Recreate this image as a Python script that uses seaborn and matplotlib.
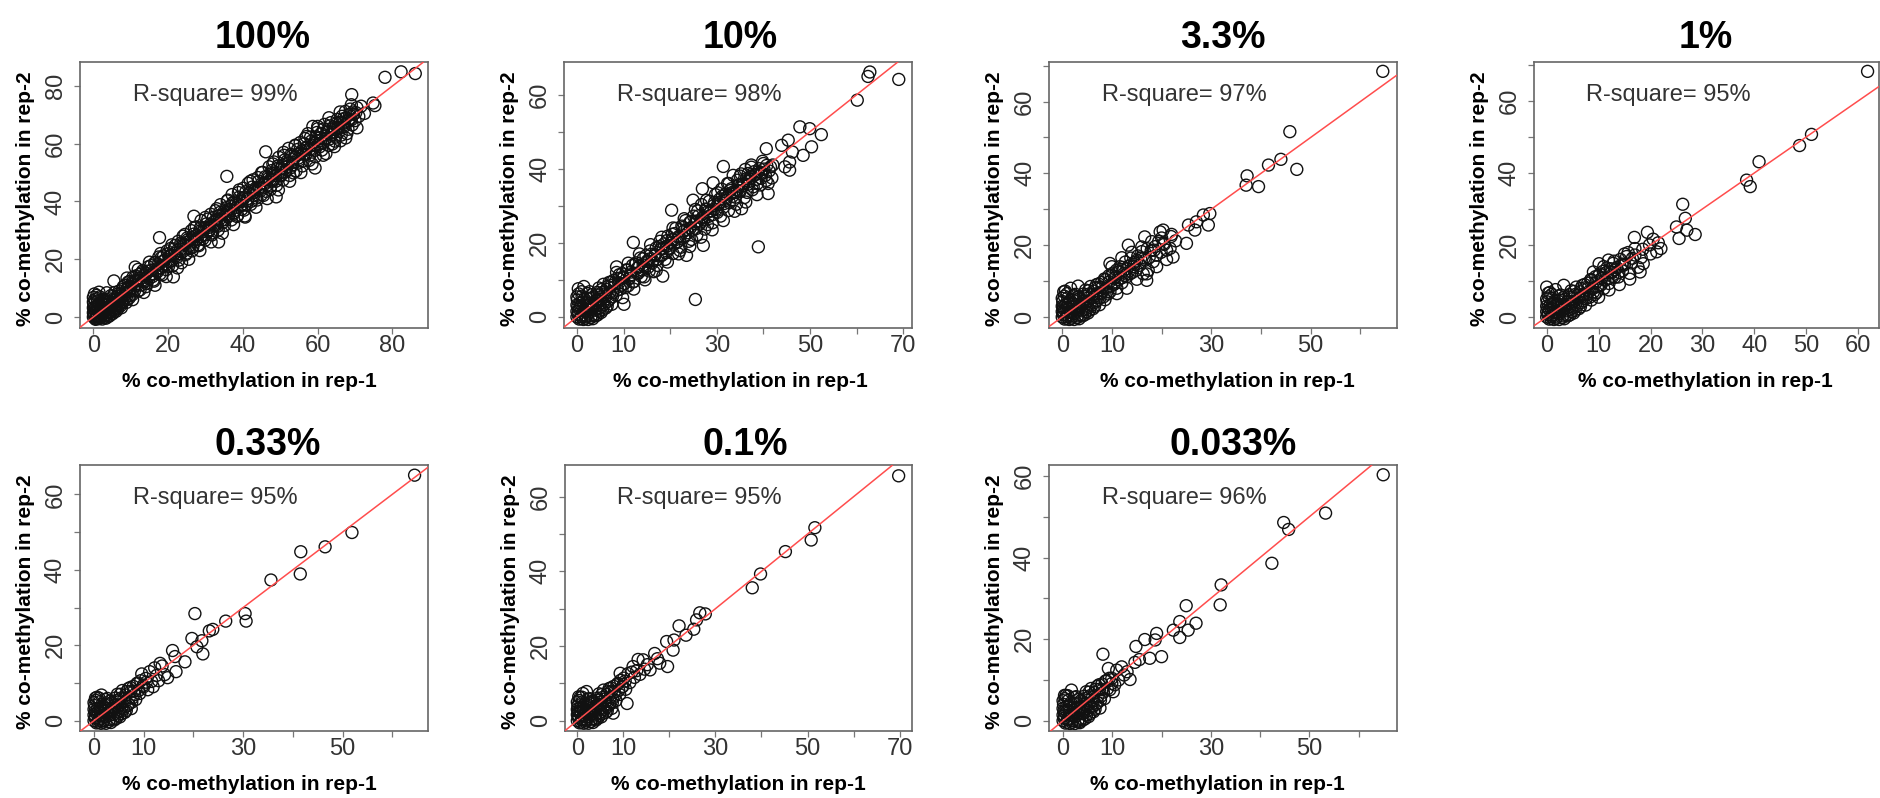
import matplotlib
matplotlib.use("Agg")
import matplotlib.pyplot as plt
import seaborn as sns
import pandas as pd

sns.set_theme(style="white")
plt.rcParams["font.family"] = ["Liberation Sans", "DejaVu Sans"]

# ---------------- data ----------------
titles = ["100%", "10%", "3.3%", "1%", "0.33%", "0.1%", "0.033%"]
r_square = ["99%", "98%", "97%", "95%", "95%", "95%", "96%"]

# fitted line (intercept, slope) per panel
fit_lines = [(0, 1), (0, 1), (0, 1), (0, 1), (0, 1), (0, 1), (0, 1)]

pts_100 = [
    (0, 0), (0.3, 1.2), (0.5, -0.5), (0.8, 2.5), (1, 0.4), (1.2, 3.8), (1.5, 1.5), (1.8, -0.3), (2, 2.6),
    (2.2, 4.8), (2.5, 0.8), (2.8, 3.3), (3, 1.9), (3.2, 5.6), (3.5, 2.7), (3.8, 0.9), (4, 4.2), (4.3, 6.3),
    (4.5, 3.1), (4.8, 1.8), (5, 5), (5.3, 7.2), (5.5, 3.9), (5.8, 2.6), (6, 6.3), (6.3, 4.4), (6.6, 8),
    (6.9, 5.6), (7.2, 3.8), (7.5, 7.5), (0.1, 4.5), (0.2, 2.8), (0.4, 6), (0.6, -0.8), (1.1, 5.5), (1.4, -0.6),
    (1.7, 7), (2.4, -0.7), (2.7, 6.1), (3.4, -0.4), (4.1, 0.2), (5.2, 1.2), (6.1, 2), (0, 3.2), (0, 6.8),
    (0.9, 7.5), (5.5, 12.5), (3.6, 8.4), (7.8, 5),
    (8.0, 10.5), (8.4, 6.2), (8.9, 9.6), (9.3, 12.1), (9.7, 7.4), (10.2, 11.3), (10.6, 13.8), (11.0, 9.0),
    (11.2, 17.3), (11.5, 12.6), (11.9, 8.9), (12.3, 14.7), (12.8, 11.1), (13.2, 16.0), (13.6, 12.2),
    (14.1, 10.5), (14.5, 15.9), (14.9, 13.3), (15.4, 17.8), (15.8, 14.0), (16.2, 12.4), (16.7, 19.0),
    (17.1, 15.6), (17.5, 20.8), (17.7, 27.5), (18.0, 16.9), (18.4, 14.6), (18.8, 21.2), (19.3, 18.0),
    (19.7, 22.9), (20.1, 17.5), (20.6, 23.7), (21.0, 19.4), (21.4, 13.9), (21.9, 24.8), (22.3, 20.6),
    (22.7, 26.2), (23.2, 21.9), (23.6, 18.8), (24.0, 25.4), (24.5, 28.6), (24.9, 22.1), (25.3, 26.8),
    (25.8, 23.7), (26.2, 29.9), (26.6, 24.2), (26.9, 34.9), (27.1, 27.8), (27.5, 31.2), (28.0, 25.0),
    (28.4, 29.7), (28.8, 33.4), (29.3, 27.1), (29.7, 31.0), (30.1, 28.5), (30.6, 33.9), (31.0, 30.2),
    (31.4, 35.6), (31.9, 29.1), (32.3, 33.0), (32.7, 36.8), (33.2, 31.4), (33.5, 26.0), (33.6, 35.0),
    (34.0, 38.9), (34.5, 32.6), (34.9, 36.4), (35.3, 33.7), (35.7, 48.7), (35.8, 40.2), (36.2, 35.1),
    (36.6, 38.3), (37.1, 42.4), (37.5, 36.0), (37.9, 39.9), (38.4, 34.8), (38.8, 43.1), (39.2, 40.0),
    (39.7, 37.3), (40.1, 44.6), (40.6, 34.6), (40.5, 41.5), (41.0, 39.0), (41.4, 46.3), (41.8, 42.8),
    (42.3, 40.1), (42.7, 47.5), (43.1, 43.9), (43.6, 41.2), (44.0, 48.3), (44.4, 45.0), (44.9, 42.3),
    (45.3, 50.1), (45.7, 46.4), (46.1, 57.2), (46.2, 43.5), (46.6, 48.5), (47.0, 52.0), (47.5, 45.4),
    (47.9, 49.8), (48.3, 53.7), (48.8, 47.0), (48.9, 41.6), (49.2, 51.4), (49.6, 55.3), (50.1, 48.8),
    (50.5, 52.6), (50.9, 57.0), (51.4, 50.2), (51.8, 54.0), (52.2, 58.4), (52.7, 51.6), (53.1, 55.7),
    (53.5, 49.9), (54.0, 59.3), (54.4, 56.2), (54.8, 53.3), (55.3, 60.4), (55.7, 57.5), (56.1, 54.0),
    (56.6, 61.8), (57.0, 58.6), (57.4, 63.5), (57.9, 56.0), (58.3, 60.9), (58.7, 66.0), (59.2, 57.7),
    (59.3, 51.6), (59.6, 62.4), (60.0, 65.2), (60.5, 58.9), (60.9, 63.6), (61.3, 60.2), (61.8, 66.7),
    (62.2, 56.6), (62.6, 64.4), (63.1, 61.6), (63.5, 67.3), (63.9, 59.9), (64.4, 65.0), (64.8, 62.3),
    (65.2, 68.4), (65.7, 64.2), (66.1, 61.0), (66.5, 69.5), (67.0, 65.8), (67.4, 71.2), (67.8, 63.5),
    (68.3, 67.9), (68.7, 72.0), (69.1, 77.0), (69.2, 66.5), (69.6, 70.2), (70.0, 68.0), (70.5, 72.5),
    (71.0, 69.5), (71.6, 73.0), (72.5, 70.5), (74.8, 74.1), (75.3, 73.2), (78.0, 83.0), (82.3, 84.9),
    (86.1, 84.3),
]
core_100 = [
    (0.2, 0.6), (0.5, 1.9), (0.7, 3.4), (0.9, 0.1), (1.3, 2.2), (1.6, 4.4), (1.9, 1.1), (2.1, 3.5), (2.3, 5.9),
    (2.6, 2.0), (2.9, 4.6), (3.1, 0.3), (3.3, 3.0), (3.6, 5.0), (3.9, 1.7), (4.2, 3.5), (4.4, 5.5), (4.7, 7.4),
    (4.9, 2.4), (5.1, 4.3), (5.4, 6.2), (5.7, 8.5), (5.9, 3.3), (6.2, 5.3), (6.4, 7.1), (6.7, 4.0), (6.9, 9.0),
    (7.1, 6.4), (7.4, 8.3), (7.6, 5.2), (7.9, 9.6), (8.2, 7.3), (8.5, 11.0), (8.7, 8.1), (9.0, 6.0), (9.2, 10.2),
    (9.5, 8.9), (9.8, 12.4), (10.0, 10.0), (0.0, 1.5), (0.0, 5.2), (0.3, 8.0), (1.0, 6.4), (1.5, 8.6),
    (0.8, -0.4), (2.0, 0.0), (3.0, -0.2), (4.5, 0.6), (5.5, 1.8), (6.5, 2.8), (7.5, 3.2), (8.8, 5.0),
    (9.6, 6.6), (10.4, 7.7),
    (10.4, 12.0), (10.9, 10.2), (11.3, 14.2), (11.7, 11.0), (12.1, 12.7), (12.5, 9.4), (12.9, 15.3),
    (13.4, 12.9), (13.8, 14.5), (14.3, 11.6), (14.7, 17.4), (15.1, 14.4), (15.6, 16.2), (16.0, 12.8),
    (16.4, 18.8), (16.9, 15.9), (17.3, 18.1), (17.8, 14.9), (18.2, 20.6), (18.6, 17.6), (19.0, 19.7),
    (19.5, 16.4), (19.9, 21.9), (20.3, 19.2), (20.8, 21.5), (21.2, 17.8), (21.6, 23.6), (22.1, 21.2),
    (22.5, 23.1), (22.9, 19.7), (23.4, 25.6), (23.8, 22.5), (24.2, 24.9), (24.7, 21.6), (25.1, 27.4),
    (25.5, 24.6), (26.0, 26.7), (26.4, 22.9), (26.8, 28.7), (27.3, 26.1), (27.7, 28.3), (28.2, 24.7),
    (28.6, 30.8), (29.0, 27.9), (29.5, 30.2), (29.9, 26.6), (30.3, 32.3), (30.8, 29.6), (31.2, 32.0),
    (31.7, 28.4), (32.1, 34.5), (32.5, 31.5), (33.0, 33.8), (33.4, 30.1), (33.8, 36.2), (34.3, 33.5),
    (34.7, 35.6), (35.1, 31.7), (35.6, 37.9), (36.0, 34.7), (36.4, 37.3), (36.9, 33.6), (37.3, 39.6),
    (37.7, 36.8), (38.2, 39.4), (38.6, 35.2), (39.0, 41.5), (39.5, 38.7), (39.9, 41.2), (40.3, 37.0),
    (40.8, 43.4), (41.2, 40.2), (41.6, 42.9), (42.1, 39.0), (42.5, 45.0), (42.9, 42.1), (43.4, 44.6),
    (43.8, 40.5), (44.2, 47.0), (44.7, 43.7), (45.1, 46.3), (45.5, 42.1), (46.0, 48.6), (46.4, 45.6),
    (46.8, 47.9), (47.3, 44.1), (47.7, 50.7), (48.1, 47.3), (48.6, 49.9), (49.0, 45.6), (49.4, 52.3),
    (49.9, 49.1), (50.3, 51.5), (50.7, 47.4), (51.2, 54.4), (51.6, 50.9), (52.0, 53.3), (52.5, 49.0),
    (52.9, 56.3), (53.3, 52.7), (53.8, 55.2), (54.2, 50.6), (54.6, 58.0), (55.1, 54.5), (55.5, 56.8),
    (55.9, 52.3), (56.4, 60.0), (56.8, 56.3), (57.2, 58.9), (57.7, 54.2), (58.1, 62.3), (58.5, 58.0),
    (59.0, 60.5), (59.4, 55.5), (59.8, 63.9), (60.3, 60.0), (60.7, 62.1), (61.1, 57.8), (61.6, 65.1),
    (62.0, 61.7), (62.4, 63.9), (62.9, 59.4), (63.3, 66.2), (63.7, 63.2), (64.2, 65.8), (64.6, 60.9),
    (65.0, 67.0), (65.5, 65.3), (65.9, 67.4), (66.3, 63.0), (66.8, 68.6), (67.2, 66.6), (67.6, 69.0),
    (68.1, 65.0), (68.5, 70.1), (69.0, 68.3), (69.4, 71.0), (70.2, 70.8),
]
edge_100 = [
    (9.0, 13.5), (10.5, 6.0), (12.0, 16.5), (13.5, 8.5), (15.0, 19.0), (16.5, 11.0), (18.0, 22.0),
    (19.5, 14.0), (21.0, 25.0), (22.5, 17.0), (24.0, 28.0), (25.5, 20.0), (27.0, 31.0), (28.5, 23.0),
    (30.0, 34.5), (31.5, 26.0), (33.0, 37.5), (34.5, 29.0), (36.0, 40.5), (37.5, 32.0), (39.0, 44.0),
    (40.5, 35.0), (42.0, 47.0), (43.5, 38.0), (45.0, 50.0), (46.5, 41.0), (48.0, 53.0), (49.5, 44.0),
    (51.0, 56.0), (52.5, 47.0), (54.0, 59.5), (55.5, 50.0), (57.0, 62.5), (58.5, 53.0), (60.0, 66.0),
    (61.5, 56.0), (63.0, 69.0), (64.5, 59.0), (66.0, 71.0), (67.5, 62.0), (69.0, 73.5), (70.5, 65.5),
    (9.8, 9.0), (11.3, 12.4), (12.8, 13.5), (14.3, 15.1), (15.8, 15.0), (17.3, 17.0), (18.8, 19.3),
    (20.3, 21.0), (21.8, 22.0), (23.3, 23.5), (24.8, 25.8), (26.3, 26.0), (27.8, 27.0), (29.3, 29.5),
    (30.8, 31.0), (32.3, 32.0), (33.8, 34.0), (35.3, 35.5), (36.8, 37.0), (38.3, 38.0), (39.8, 40.0),
    (41.3, 41.0), (42.8, 43.0), (44.3, 44.5), (45.8, 46.0), (47.3, 47.5), (48.8, 49.0), (50.3, 50.0),
    (51.8, 52.0), (53.3, 53.5), (54.8, 55.0), (56.3, 56.5), (57.8, 58.0), (59.3, 59.5), (60.8, 61.0),
    (62.3, 62.0), (63.8, 64.0), (65.3, 65.5), (66.8, 67.0), (68.3, 68.5),
]

pts_10 = [
    (0, 0), (0.3, 1.5), (0.5, -0.6), (0.8, 2.8), (1, 0.5), (1.2, 4), (1.5, 1.6), (1.8, -0.4), (2, 3),
    (2.2, 5), (2.5, 1), (2.8, 3.6), (3, 2), (3.2, 6), (3.5, 2.8), (3.8, 0.6), (4, 4.4), (4.3, 6.6), (4.5, 3),
    (4.8, 1.6), (5, 5.4), (5.3, 7.4), (5.6, 3.8), (6, 6.2), (6.2, 2.4), (0.1, 4.6), (0.2, 2.8), (0.4, 6.2),
    (1.1, 5.6), (1.4, -0.7), (2.4, -0.7), (2.7, 6.8), (3.4, -0.5), (4.1, 0.3), (5.2, 1.2), (0, 3.2),
    (6.6, 8.2), (7, 4.8), (7.3, 9.4), (7.7, 6.6),
    (8.0, 8.1), (8.5, 13.5), (8.4, 5.8), (8.9, 10.3), (9.3, 7.5), (9.7, 11.6), (10.1, 3.4), (10.2, 9.0),
    (10.6, 12.7), (11.0, 8.4), (11.4, 11.0), (11.9, 13.9), (12.1, 20.1), (12.3, 9.6), (12.7, 14.6),
    (13.1, 11.7), (13.6, 15.9), (14.0, 12.6), (14.4, 10.8), (14.8, 16.5), (15.3, 13.4), (15.7, 17.8),
    (16.1, 14.5), (16.5, 12.2), (17.0, 18.6), (17.4, 15.6), (17.8, 20.4), (18.2, 16.6), (18.4, 11.0),
    (18.7, 19.7), (19.1, 17.3), (19.5, 21.8), (19.9, 18.4), (20.3, 28.8), (20.4, 22.3), (20.8, 19.6),
    (21.2, 23.9), (21.6, 20.3), (22.1, 17.9), (22.5, 24.5), (22.9, 21.4), (23.3, 26.0), (23.5, 16.6),
    (23.8, 22.7), (24.2, 25.5), (24.6, 20.9), (24.9, 31.5), (25.0, 27.2), (25.4, 4.7), (25.5, 23.8),
    (25.9, 28.6), (26.3, 25.0), (26.7, 30.3), (26.9, 34.6), (27.1, 19.3), (27.2, 26.2), (27.6, 29.1),
    (28.0, 24.9), (28.4, 31.2), (28.9, 27.5), (29.2, 36.2), (29.3, 30.0), (29.7, 33.0), (30.1, 28.2),
    (30.6, 31.8), (31.0, 34.5), (31.4, 40.6), (31.4, 29.6), (31.8, 33.1), (32.3, 36.0), (32.7, 30.8),
    (33.1, 34.6), (33.5, 38.2), (34.0, 32.3), (34.4, 36.9), (34.8, 34.0), (35.3, 29.2), (35.2, 38.6),
    (35.7, 35.4), (36.1, 39.8), (36.5, 33.6), (36.7, 38.7), (37.0, 37.2), (37.4, 40.4), (37.8, 35.1),
    (38.2, 38.4), (38.7, 36.0), (38.9, 18.9), (39.1, 40.0), (39.5, 37.4), (40.0, 41.4), (40.4, 38.2),
    (40.6, 45.4), (41.0, 33.3), (41.2, 39.4), (41.8, 37.5), (43.9, 46.3), (44.6, 40.5), (45.3, 47.7),
    (45.6, 39.6), (45.6, 41.8), (46.2, 44.5), (47.8, 51.3), (48.5, 43.6), (49.9, 50.8), (50.3, 45.9),
    (52.4, 49.2), (60.1, 58.5), (62.4, 64.9), (62.8, 66.1), (69.0, 64.1),
]
core_10 = [
    (0.2, 0.7), (0.5, 2.1), (0.7, 3.7), (0.9, 0.1), (1.3, 2.4), (1.6, 4.8), (1.9, 1.2), (2.1, 3.8), (2.3, 6.3),
    (2.6, 2.1), (2.9, 5.0), (3.1, 0.3), (3.3, 3.2), (3.6, 5.4), (3.9, 1.8), (4.2, 3.7), (4.4, 5.9), (4.7, 7.8),
    (4.9, 2.5), (5.1, 4.6), (5.4, 6.6), (5.7, 8.8), (5.9, 3.4), (6.2, 5.6), (6.4, 7.4), (6.7, 4.2), (6.9, 9.3),
    (7.1, 6.7), (7.4, 8.5), (7.6, 5.4), (7.9, 9.9), (0.0, 1.5), (0.0, 5.4), (0.3, 7.6), (1.0, 6.8), (1.5, 8.2),
    (0.8, -0.4), (2.0, 0.0), (3.0, -0.2), (4.5, 0.6), (5.5, 1.9), (6.5, 2.9), (7.5, 3.4),
    (8.2, 9.4), (8.7, 7.2), (9.1, 11.4), (9.5, 8.6), (9.9, 10.6), (10.4, 7.9), (10.8, 12.6), (11.2, 10.3),
    (11.6, 12.1), (12.0, 9.4), (12.5, 14.2), (12.9, 11.8), (13.3, 13.6), (13.8, 10.9), (14.2, 15.7),
    (14.6, 13.4), (15.0, 15.0), (15.5, 12.4), (15.9, 16.9), (16.3, 15.1), (16.8, 16.8), (17.2, 13.9),
    (17.6, 19.0), (18.0, 16.7), (18.5, 18.4), (18.9, 15.5), (19.3, 20.6), (19.8, 18.6), (20.2, 20.0),
    (20.6, 17.1), (21.0, 22.5), (21.5, 20.2), (21.9, 21.7), (22.3, 18.8), (22.7, 24.1), (23.2, 22.0),
    (23.6, 23.6), (24.0, 20.4), (24.5, 25.8), (24.8, 23.4), (25.3, 25.1), (25.7, 22.1), (26.1, 27.3),
    (26.5, 25.6), (27.0, 27.0), (27.4, 23.7), (27.8, 29.0), (28.2, 27.1), (28.7, 28.6), (29.1, 25.4),
    (29.5, 30.9), (29.9, 29.0), (30.4, 30.4), (30.8, 27.2), (31.2, 32.6), (31.6, 30.6), (32.0, 32.2),
    (32.5, 28.7), (32.9, 34.1), (33.3, 32.5), (33.7, 33.8), (34.2, 30.4), (34.6, 35.6), (35.0, 33.9),
    (35.4, 35.8), (35.9, 32.2), (36.3, 37.3), (36.7, 35.8), (37.2, 37.9), (37.6, 34.3), (38.0, 39.2),
    (38.4, 37.1), (38.8, 39.1), (39.3, 35.6), (39.7, 38.8), (40.1, 39.9), (40.6, 36.8), (41.5, 40.5),
    (42.0, 41.0),
]
edge_10 = [
    (8.5, 12.0), (9.8, 5.2), (11.0, 14.5), (12.2, 7.5), (13.4, 17.0), (14.6, 10.0), (15.8, 19.5),
    (17.0, 12.5), (18.2, 21.5), (19.4, 14.8), (20.6, 24.0), (21.8, 17.0), (23.0, 26.5), (24.2, 19.0),
    (25.4, 29.0), (26.6, 21.5), (27.8, 31.5), (29.0, 23.5), (30.2, 33.5), (31.4, 26.0), (32.6, 36.0),
    (33.8, 28.5), (35.0, 38.0), (36.2, 31.0), (37.4, 41.0), (38.6, 33.0), (39.8, 42.0), (41.0, 36.0),
    (9.0, 9.2), (10.0, 10.5), (11.5, 11.3), (13.0, 13.2), (14.2, 14.0), (15.5, 15.6), (16.7, 16.5),
    (18.0, 18.3), (19.2, 19.0), (20.5, 20.8), (21.7, 21.5), (23.0, 23.2), (24.3, 24.0), (25.6, 25.8),
    (26.9, 26.6), (28.1, 28.4), (29.4, 29.1), (30.7, 31.0), (31.9, 31.4), (33.2, 33.5), (34.4, 34.1),
    (35.7, 36.0), (36.9, 36.6), (38.2, 38.4), (39.4, 39.0), (40.7, 40.9),
]

pts_3_3 = [
    (0, 0), (0.3, 1.4), (0.5, -0.6), (0.8, 2.6), (1, 0.5), (1.2, 3.8), (1.5, 1.5), (1.8, -0.4), (2, 2.8),
    (2.2, 4.6), (2.5, 1), (2.8, 3.5), (3, 2), (3.2, 5.6), (3.2, 8.6), (3.5, 2.6), (3.8, 0.6), (4, 4.2),
    (4.3, 6.4), (4.5, 3), (4.8, 1.5), (5, 5.2), (5.3, 7.3), (5.6, 3.6), (6, 6.2), (6.2, 2.3), (0.1, 4.3),
    (0.2, 2.6), (0.4, 5.8), (1.1, 5.3), (1.4, -0.7), (2.4, -0.7), (2.7, 6.3), (3.4, -0.5), (4.1, 0.3),
    (5.2, 1.1), (0, 3), (6.6, 8.1), (7, 4.6), (7.3, 9.2), (7.7, 6.4), (0.6, 7.2), (1.7, 8.0),
    (8.0, 8.2), (8.3, 5.6), (8.7, 10.4), (9.0, 7.0), (9.4, 11.5), (9.6, 14.9), (9.8, 8.6), (10.2, 12.2),
    (10.5, 9.2), (10.9, 13.0), (11.2, 10.4), (11.6, 14.0), (12.0, 9.5), (12.3, 12.9), (12.7, 15.3),
    (13.0, 11.2), (13.3, 20.0), (13.4, 14.2), (13.8, 16.4), (14.1, 12.4), (14.5, 15.2), (14.9, 13.0),
    (15.2, 17.0), (15.6, 14.4), (16.0, 18.2), (16.3, 12.0), (16.6, 22.3), (16.7, 15.8), (17.0, 10.2),
    (17.1, 19.0), (17.3, 13.0), (17.5, 16.6), (17.9, 18.5), (18.3, 15.4), (18.7, 19.6), (19.0, 17.2),
    (19.4, 21.0), (19.7, 23.7), (19.9, 18.0), (20.3, 24.2), (20.4, 20.5), (21.0, 18.6), (21.7, 19.1),
    (21.9, 22.4), (22.3, 16.7), (22.8, 21.2), (25.0, 20.5), (25.4, 25.6), (26.7, 24.2), (27.0, 26.5),
    (28.4, 28.4), (29.4, 25.6), (29.7, 28.8), (37.0, 36.7), (37.2, 39.3), (39.5, 36.3), (41.5, 42.3),
    (44.0, 43.9), (45.8, 51.6), (47.2, 41.1), (64.5, 68.4),
]
core_3_3 = [
    (0.2, 0.7), (0.5, 2.0), (0.7, 3.5), (0.9, 0.1), (1.3, 2.3), (1.6, 4.6), (1.9, 1.1), (2.1, 3.6), (2.3, 6.0),
    (2.6, 2.0), (2.9, 4.8), (3.1, 0.3), (3.3, 3.1), (3.6, 5.2), (3.9, 1.7), (4.2, 3.6), (4.4, 5.7), (4.7, 7.5),
    (4.9, 2.4), (5.1, 4.4), (5.4, 6.4), (5.7, 8.5), (5.9, 3.3), (6.2, 5.4), (6.4, 7.2), (6.7, 4.1), (6.9, 9.0),
    (7.1, 6.5), (7.4, 8.3), (7.6, 5.3), (7.9, 9.6), (8.2, 7.2), (8.5, 10.6), (8.9, 8.1), (9.2, 6.4), (9.5, 9.8),
    (9.9, 11.6), (10.3, 9.0), (10.7, 11.2), (11.0, 8.0), (11.4, 12.6), (11.8, 10.8), (12.2, 13.8), (12.5, 11.5),
    (13.0, 13.4), (13.6, 12.0), (14.3, 14.0), (15.0, 15.8), (15.8, 16.4), (0.0, 1.5), (0.0, 5.2), (0.3, 7.0),
    (1.0, 6.5), (0.8, -0.4), (2.0, 0.0), (3.0, -0.2), (4.5, 0.6), (5.5, 1.9), (6.5, 2.9), (7.5, 3.4),
    (8.6, 4.8), (9.6, 7.0),
]
edge_3_3 = [
    (10.0, 14.0), (11.0, 6.5), (12.0, 16.5), (13.0, 8.0), (14.0, 18.0), (15.0, 10.5), (16.0, 19.5),
    (17.0, 12.0), (18.0, 21.0), (19.0, 14.0), (20.0, 22.0), (21.0, 16.0), (10.5, 10.8), (12.5, 12.2),
    (14.5, 14.6), (16.5, 16.4), (18.5, 18.6), (20.5, 20.2), (22.0, 23.0),
]

pts_1 = [
    (0, 0), (0.3, 1.3), (0.5, -0.6), (0.8, 2.5), (1, 0.5), (1.2, 3.6), (1.5, 1.4), (1.8, -0.4), (2, 2.7),
    (2.2, 4.4), (2.5, 1), (2.8, 3.4), (3, 1.9), (3.2, 5.4), (3.3, 8.8), (3.5, 2.5), (3.8, 0.6), (4, 4.1),
    (4.3, 6.2), (4.5, 2.9), (4.8, 1.5), (5, 5.1), (5.3, 7.1), (5.6, 3.5), (6, 6), (6.2, 2.3), (0.1, 4.2),
    (0.2, 2.5), (0.4, 5.6), (1.1, 5.1), (1.4, -0.7), (2.4, -0.7), (2.7, 6.1), (3.4, -0.5), (4.1, 0.3),
    (5.2, 1.1), (0, 3), (0, 8.3), (6.6, 7.9), (7, 4.5), (7.3, 9.0), (7.7, 6.2), (0.6, 6.8), (1.7, 7.6),
    (8.0, 8.0), (8.3, 5.5), (8.7, 10.2), (9.0, 6.9), (9.4, 11.2), (9.8, 8.4), (10.1, 14.8), (10.2, 11.9),
    (10.5, 9.0), (10.9, 12.7), (11.2, 10.2), (11.6, 13.6), (11.9, 15.8), (12.0, 9.3), (12.4, 12.6),
    (12.8, 14.9), (13.1, 11.0), (13.5, 13.7), (13.8, 11.1), (14.2, 16.0), (14.6, 12.8), (15.0, 14.6),
    (15.4, 16.8), (15.7, 17.9), (16.0, 12.1), (16.3, 15.0), (16.9, 22.1), (17.0, 17.2), (17.6, 13.8),
    (18.2, 16.5), (18.6, 14.8), (19.4, 23.5), (19.8, 20.0), (20.5, 21.6), (21.2, 18.1), (21.5, 20.6),
    (22.0, 19.0), (25.0, 25.0), (25.5, 21.8), (26.2, 31.3), (26.7, 27.4), (27.0, 24.1), (28.6, 22.9),
    (38.5, 38.0), (39.2, 36.2), (40.9, 43.1), (48.7, 47.6), (51.0, 50.7), (61.8, 68.2),
]
core_1 = [
    (0.2, 0.7), (0.5, 2.0), (0.7, 3.4), (0.9, 0.1), (1.3, 2.2), (1.6, 4.5), (1.9, 1.1), (2.1, 3.5), (2.3, 5.8),
    (2.6, 2.0), (2.9, 4.6), (3.1, 0.3), (3.3, 3.0), (3.6, 5.0), (3.9, 1.7), (4.2, 3.5), (4.4, 5.5), (4.7, 7.3),
    (4.9, 2.4), (5.1, 4.3), (5.4, 6.2), (5.7, 8.3), (5.9, 3.2), (6.2, 5.2), (6.4, 7.0), (6.7, 4.0), (6.9, 8.8),
    (7.1, 6.3), (7.4, 8.1), (7.6, 5.1), (7.9, 9.4), (8.2, 7.1), (8.5, 10.4), (8.9, 7.9), (9.2, 6.2), (9.5, 9.6),
    (9.9, 11.3), (10.3, 8.8), (10.7, 10.9), (11.0, 7.9), (11.4, 12.3), (11.8, 10.6), (12.3, 13.4), (12.7, 11.2),
    (13.2, 13.1), (13.9, 12.4), (14.7, 14.3), (0.0, 1.5), (0.0, 5.0), (0.3, 6.6), (1.0, 6.3), (0.8, -0.4),
    (2.0, 0.0), (3.0, -0.2), (4.5, 0.6), (5.5, 1.8), (6.5, 2.8), (7.5, 3.3), (8.6, 4.7), (9.6, 6.8),
]
edge_1 = [
    (9.0, 12.5), (10.0, 5.5), (11.0, 14.0), (12.0, 7.5), (13.0, 15.5), (14.0, 9.0), (15.0, 17.5),
    (16.0, 10.5), (17.0, 19.0), (18.0, 12.5), (10.5, 10.6), (12.5, 12.3), (14.5, 14.7), (16.5, 16.3),
    (18.5, 18.8), (20.0, 17.5),
]

pts_0_33 = [
    (0, 0), (0.3, 1.2), (0.5, -0.6), (0.8, 2.4), (1, 0.5), (1.2, 3.4), (1.5, 1.4), (1.5, 6.8), (1.8, -0.4),
    (2, 2.6), (2.2, 4.2), (2.5, 1), (2.8, 3.2), (3, 1.8), (3.2, 5.2), (3.5, 2.4), (3.8, 0.5), (4, 4),
    (4.3, 6), (4.5, 2.8), (4.8, 1.4), (5, 5), (5.3, 7), (5.6, 3.4), (6, 5.8), (6.2, 2.2), (0.1, 4),
    (0.2, 2.4), (0.4, 5.4), (1.1, 5), (1.4, -0.7), (2.4, -0.7), (2.7, 5.9), (3.4, -0.5), (4.1, 0.2),
    (5.2, 1), (0, 3), (6.6, 7.7), (7, 4.4), (7.3, 8.8), (7.7, 6), (0.6, 6.2),
    (8.0, 7.8), (8.4, 5.6), (8.8, 10.0), (9.2, 7.2), (9.6, 12.4), (10.0, 9.0), (10.4, 11.2), (10.8, 8.2),
    (11.2, 13.0), (11.6, 10.4), (11.9, 9.0), (12.2, 14.0), (12.6, 12.0), (13.0, 10.6), (13.3, 15.2),
    (13.7, 14.5), (14.2, 12.2), (14.8, 11.4), (15.8, 18.6), (16.3, 17.0), (16.5, 13.0), (18.3, 15.6),
    (19.7, 21.8), (20.3, 28.4), (20.7, 19.6), (21.7, 21.2), (21.9, 17.7), (23.2, 23.8), (23.9, 24.2),
    (26.5, 26.4), (30.4, 28.4), (30.6, 26.4), (35.6, 37.3), (41.5, 38.9), (41.6, 44.8), (46.5, 46.1),
    (51.9, 49.9), (64.5, 65.1),
]
core_0_33 = [
    (0.2, 0.7), (0.5, 2.0), (0.7, 3.3), (0.9, 0.1), (1.3, 2.2), (1.6, 4.3), (1.9, 1.1), (2.1, 3.4), (2.3, 5.6),
    (2.6, 2.0), (2.9, 4.4), (3.1, 0.3), (3.3, 2.9), (3.6, 4.8), (3.9, 1.6), (4.2, 3.4), (4.4, 5.3), (4.7, 7.0),
    (4.9, 2.3), (5.1, 4.2), (5.4, 6.0), (5.7, 8.0), (5.9, 3.1), (6.2, 5.0), (6.4, 6.8), (6.7, 3.9), (6.9, 8.5),
    (7.1, 6.1), (7.4, 7.8), (7.6, 4.9), (7.9, 9.1), (8.2, 6.9), (8.6, 9.8), (9.0, 8.0), (9.4, 10.6), (9.9, 9.4),
    (10.5, 10.2), (0.0, 1.5), (0.0, 4.8), (0.3, 6.0), (1.0, 6.0), (0.8, -0.4), (2.0, 0.0), (3.0, -0.2),
    (4.5, 0.6), (5.5, 1.8), (6.5, 2.7), (7.5, 3.2),
]

pts_0_1 = [
    (0, 0), (0.3, 1.2), (0.5, -0.6), (0.8, 2.4), (1, 0.5), (1.2, 3.4), (1.2, 7.3), (1.5, 1.4), (1.8, -0.4),
    (2, 2.6), (2, 7.8), (2.2, 4.2), (2.5, 1), (2.8, 3.2), (3, 1.8), (3.2, 5.2), (3.5, 2.4), (3.8, 0.5),
    (4, 4), (4.3, 6), (4.5, 2.8), (4.8, 1.4), (5, 5), (5.3, 7), (5.6, 3.4), (6, 5.8), (6.2, 2.2), (0.1, 4),
    (0.2, 2.4), (0.4, 5.4), (1.1, 5), (1.4, -0.7), (2.4, -0.7), (2.7, 5.9), (3.4, -0.5), (4.1, 0.2),
    (5.2, 1), (0, 3), (6.6, 7.7), (7, 4.4), (7.3, 8.8), (7.7, 6), (7.8, 2.0), (0.6, 6.2),
    (8.0, 7.6), (8.4, 5.4), (8.8, 10.0), (9.2, 7.0), (9.3, 12.7), (9.7, 9.0), (10.1, 11.4), (10.5, 8.4),
    (10.8, 4.6), (11.0, 12.6), (11.4, 10.2), (11.8, 13.0), (12.1, 14.5), (12.4, 11.6), (12.9, 13.4),
    (13.2, 16.4), (13.6, 12.4), (14.3, 16.3), (14.6, 13.8), (15.2, 15.0), (15.8, 13.6), (16.8, 18.0),
    (17.4, 16.6), (17.9, 15.4), (19.4, 21.2), (19.6, 14.5), (20.8, 18.9), (21.0, 21.6), (22.1, 25.4),
    (23.6, 22.9), (25.3, 24.5), (25.9, 27.0), (26.6, 28.9), (27.8, 28.6), (38.0, 35.6), (39.8, 39.3),
    (45.2, 45.3), (50.8, 48.4), (51.6, 51.7), (69.8, 65.6),
]
core_0_1 = [
    (0.2, 0.8), (0.5, 2.1), (0.7, 3.6), (0.9, 0.2), (1.3, 2.3), (1.6, 4.5), (1.9, 1.0), (2.1, 3.6), (2.3, 5.8),
    (2.6, 1.9), (2.9, 4.5), (3.1, 0.4), (3.3, 3.0), (3.6, 5.0), (3.9, 1.5), (4.2, 3.5), (4.4, 5.5), (4.7, 7.2),
    (4.9, 2.2), (5.1, 4.3), (5.4, 6.2), (5.7, 8.2), (5.9, 3.0), (6.2, 5.1), (6.4, 7.0), (6.7, 3.8), (6.9, 8.6),
    (7.1, 6.2), (7.4, 7.9), (7.6, 4.8), (7.9, 9.2), (8.2, 6.8), (8.6, 9.6), (9.0, 8.1), (9.4, 10.8), (9.9, 9.2),
    (10.4, 10.6), (0.0, 1.6), (0.0, 5.0), (0.3, 6.4), (1.0, 6.3), (0.8, -0.4), (2.0, 0.1), (3.0, -0.2),
    (4.5, 0.7), (5.5, 1.9), (6.5, 2.6), (7.5, 3.3),
]

pts_0_033 = [
    (0, 0), (0.3, 1.2), (0.5, -0.6), (0.8, 2.4), (1, 0.5), (1.2, 3.4), (1.5, 1.4), (1.7, 7.5), (1.8, -0.4),
    (2, 2.6), (2.2, 4.2), (2.5, 1), (2.8, 3.2), (3, 1.8), (3.2, 5.2), (3.4, -0.2), (3.5, 2.4), (3.8, 0.5),
    (4, 4), (4.3, 6), (4.5, 2.8), (4.8, 1.4), (5, 5), (5.3, 7), (5.6, 3.4), (6, 5.8), (6.2, 2.2), (0.1, 4),
    (0.2, 2.4), (0.4, 5.4), (1.1, 5), (1.4, -0.7), (2.4, -0.7), (2.7, 5.9), (3.4, -0.5), (4.1, 0.2),
    (5.2, 1), (0, 3), (6.6, 7.7), (7, 4.4), (7.3, 8.8), (7.7, 6), (0.6, 6.2),
    (8.0, 7.6), (8.1, 16.3), (8.4, 5.4), (8.8, 9.8), (9.2, 12.8), (9.5, 7.6), (9.9, 10.4), (10.2, 7.1),
    (10.5, 8.8), (10.9, 12.4), (11.3, 10.0), (11.9, 13.2), (12.4, 11.2), (13.0, 12.0), (13.6, 10.1),
    (14.6, 14.3), (14.8, 18.2), (15.5, 15.0), (16.6, 19.9), (17.6, 15.3), (18.7, 19.8), (19.0, 21.4),
    (20.0, 15.7), (22.4, 22.2), (23.7, 24.3), (23.7, 20.4), (25.0, 28.2), (25.4, 22.2), (27.0, 23.9),
    (31.9, 28.4), (32.1, 33.3), (42.4, 38.6), (44.8, 48.6), (45.8, 46.9), (53.3, 50.9), (65.0, 60.3),
]
core_0_033 = [
    (0.2, 0.6), (0.5, 1.9), (0.7, 3.5), (0.9, 0.2), (1.3, 2.1), (1.6, 4.4), (1.9, 1.2), (2.1, 3.3), (2.3, 5.7),
    (2.6, 2.1), (2.9, 4.3), (3.1, 0.2), (3.3, 3.1), (3.6, 4.9), (3.9, 1.7), (4.2, 3.3), (4.4, 5.4), (4.7, 7.1),
    (4.9, 2.4), (5.1, 4.1), (5.4, 6.1), (5.7, 7.9), (5.9, 3.2), (6.2, 4.9), (6.4, 6.9), (6.7, 4.0), (6.9, 8.4),
    (7.1, 6.0), (7.4, 7.7), (7.6, 5.0), (7.9, 9.0), (8.2, 7.0), (8.6, 9.7), (9.0, 7.8), (9.4, 10.4), (9.9, 9.1),
    (0.0, 1.4), (0.0, 4.9), (0.3, 6.2), (1.0, 6.1), (0.8, -0.4), (2.0, 0.0), (3.0, -0.1), (4.5, 0.5),
    (5.5, 1.7), (6.5, 2.8), (7.5, 3.1),
]

panel_points = [pts_100 + core_100 + edge_100, pts_10 + core_10 + edge_10, pts_3_3 + core_3_3 + edge_3_3,
                pts_1 + core_1 + edge_1, pts_0_33 + core_0_33, pts_0_1 + core_0_1, pts_0_033 + core_0_033]

# tick values and labels (R drops overlapping labels)
xticks = [[0, 20, 40, 60, 80], list(range(0, 80, 10)), list(range(0, 70, 10)), list(range(0, 70, 10)),
          list(range(0, 70, 10)), list(range(0, 80, 10)), list(range(0, 70, 10))]
xticklabels = [["0", "20", "40", "60", "80"],
               ["0", "10", "", "30", "", "50", "", "70"],
               ["0", "10", "", "30", "", "50", ""],
               ["0", "10", "20", "30", "40", "50", "60"],
               ["0", "10", "", "30", "", "50", ""],
               ["0", "10", "", "30", "", "50", "", "70"],
               ["0", "10", "", "30", "", "50", ""]]
yticks = [[0, 20, 40, 60, 80], list(range(0, 70, 10)), list(range(0, 80, 10)), list(range(0, 80, 10)),
          list(range(0, 70, 10)), list(range(0, 70, 10)), list(range(0, 70, 10))]
yticklabels = [["0", "20", "40", "60", "80"],
               ["0", "", "20", "", "40", "", "60"],
               ["0", "", "20", "", "40", "", "60", ""],
               ["0", "", "20", "", "40", "", "60", ""],
               ["0", "", "20", "", "40", "", "60"],
               ["0", "", "20", "", "40", "", "60"],
               ["0", "", "20", "", "40", "", "60"]]

# ---------------- layout ----------------
W, H = 1881, 798
boxes = [(80, 62, 428, 328), (564.3, 62, 912.3, 328), (1049.3, 62, 1396.7, 328), (1534, 62, 1879, 328),
         (80, 465, 428, 731), (565, 465, 912, 731), (1049, 465, 1397, 731)]
xlims = [(-3.57, 89.5), (-2.7, 71.9), (-2.6, 67.3), (-2.44, 64.0), (-2.82, 67.2), (-2.68, 72.7), (-2.85, 67.8)]
ylims = [(-3.8, 88.3), (-3.0, 68.8), (-3.07, 71.0), (-3.06, 70.8), (-2.74, 67.8), (-2.77, 68.5), (-2.53, 62.7)]
title_x = [0.525, 0.504, 0.499, 0.499, 0.539, 0.519, 0.529]
title_y = [1.0515, 1.0515, 1.0515, 1.0515, 1.0376, 1.0376, 1.0376]
xlabel_x = [0.488, 0.505, 0.514, 0.496, 0.488, 0.5, 0.483]

fig = plt.figure(figsize=(W / 100, H / 100), dpi=100)
fig.patch.set_facecolor("white")

for i in range(7):
    l, t, r, b = boxes[i]
    ax = fig.add_axes([l / W, 1 - b / H, (r - l) / W, (b - t) / H])
    ax.set_facecolor("white")
    df = pd.DataFrame(panel_points[i], columns=["rep1", "rep2"])
    sns.scatterplot(data=df, x="rep1", y="rep2", ax=ax, s=74, marker="o",
                    facecolors="none", edgecolor="#111111", linewidth=1.0, legend=False, zorder=2)
    ax.collections[-1].set_facecolor("none")
    a0, sl = fit_lines[i]
    ax.axline((0, a0), slope=sl, color="#ff4d4d", lw=1.1, zorder=3)

    ax.set_xlim(*xlims[i])
    ax.set_ylim(*ylims[i])
    ax.set_xticks(xticks[i])
    ax.set_xticklabels(xticklabels[i])
    ax.set_yticks(yticks[i])
    ax.set_yticklabels(yticklabels[i], rotation=90, va="center")
    ax.tick_params(axis="both", which="major", bottom=True, left=True, direction="out",
                   length=4, width=0.9, color="#777777", labelsize=17, labelcolor="#333333")
    ax.tick_params(axis="x", pad=1)
    ax.tick_params(axis="y", pad=5.5)
    for s in ax.spines.values():
        s.set_color("#666666")
        s.set_linewidth(1.2)
        s.set_visible(True)

    ax.set_xlabel("% co-methylation in rep-1", fontsize=15, fontweight="bold", color="black")
    ax.xaxis.set_label_coords(xlabel_x[i], -0.202)
    ax.xaxis.label.set_va("center")
    ax.set_ylabel("% co-methylation in rep-2", fontsize=15, fontweight="bold", color="black")
    ax.yaxis.set_label_coords(-0.158, 0.485)
    ax.yaxis.label.set_va("center")

    ax.text(0.388, 0.875, f"R-square= {r_square[i]}", transform=ax.transAxes,
            ha="center", va="center", fontsize=17, color="#333333")
    ax.set_title(titles[i], x=title_x[i], y=title_y[i], pad=0, va="baseline",
                 fontsize=27, fontweight="bold", color="black")

fig.savefig("out.png", dpi=100, facecolor="white")
